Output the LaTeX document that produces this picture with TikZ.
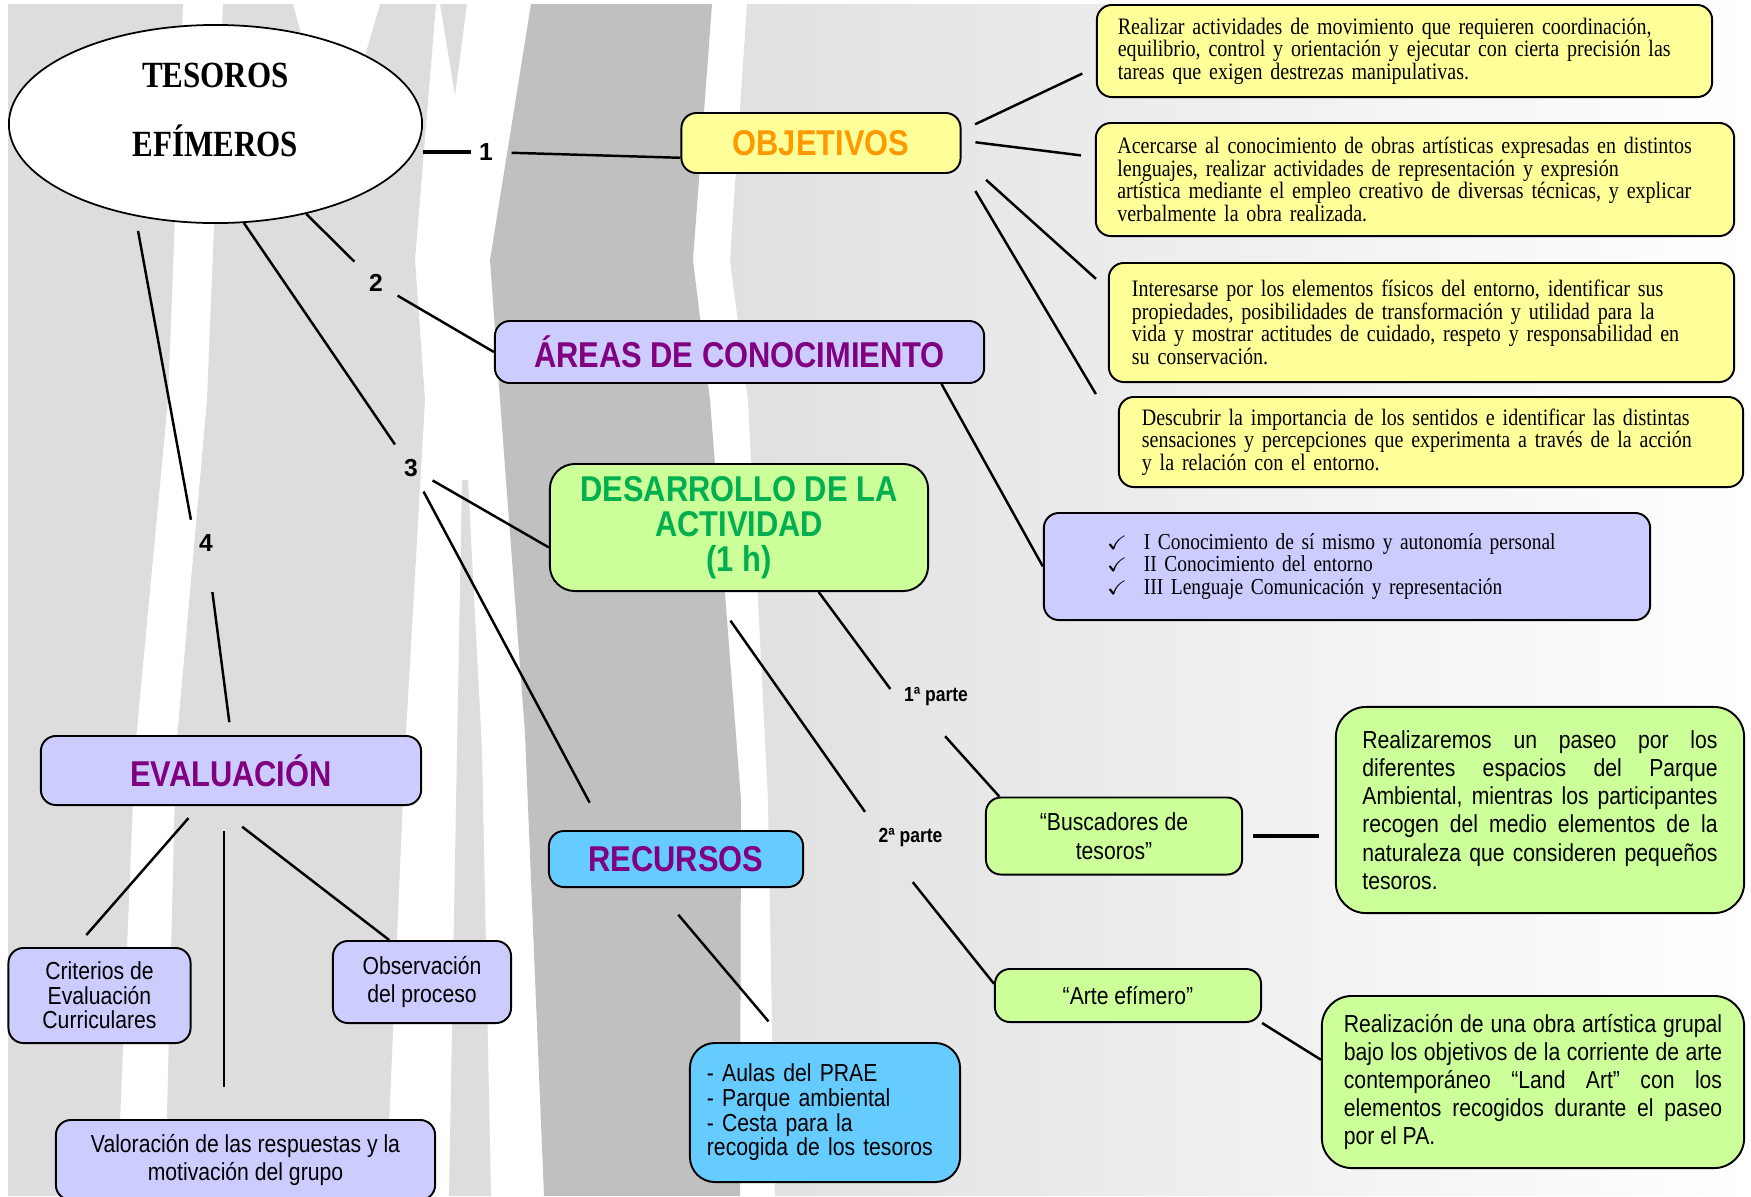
\documentclass[tikz,border=0pt]{standalone}
\usepackage{fontspec}
\usepackage{amssymb}
\setmainfont{Liberation Serif}
\setsansfont{Liberation Sans}
\newfontfamily\cuerpo[FakeStretch=0.85]{Liberation Serif}
\newfontfamily\estrecha[FakeStretch=0.86]{Liberation Sans}
\newfontfamily\titular[FakeStretch=0.84]{Liberation Serif}
\usetikzlibrary{shapes.geometric}

\definecolor{amarillo}{HTML}{FFFF99}
\definecolor{lila}{HTML}{CCCCFF}
\definecolor{verde}{HTML}{CCFF99}
\definecolor{celeste}{HTML}{66CCFF}
\definecolor{naranja}{HTML}{FF9900}
\definecolor{morado}{HTML}{800080}
\definecolor{verdeosc}{HTML}{00B050}
\definecolor{grisclaro}{HTML}{DDDDDD}
\definecolor{grisoscuro}{HTML}{C0C0C0}
\definecolor{grisfondo}{HTML}{E0E0E0}

\newcommand{\marca}{\makebox[0.38cm][l]{\fontsize{5.5}{6}\selectfont$\checkmark$}}

\begin{document}
\begin{tikzpicture}[x=0.01cm, y=-0.01cm,
        caja/.style = {draw, line width=0.55pt, rounded corners=0.15cm, inner sep=0pt, align=center},
        titulo/.style = {caja, font=\estrecha\bfseries\fontsize{10.2}{10}\selectfont},
        textoy/.style = {caja, fill=amarillo, align=left, font=\cuerpo\fontsize{6.7}{6.4}\selectfont},
        textos/.style = {caja, font=\estrecha\fontsize{7}{8}\selectfont},
        numero/.style = {font=\sffamily\bfseries\fontsize{7}{8}\selectfont, inner sep=4pt},
        parte/.style = {font=\estrecha\bfseries\fontsize{5.8}{7}\selectfont, inner sep=2pt},
        enlace/.style = {line width=0.7pt},
    ]
    \clip (0,0) rectangle (1751,1196);
    % fondo: troncos
    \fill[white] (0,0) rectangle (1751,1196);
    \shade[left color=grisfondo, right color=white] (747,4) -- (1751,4) -- (1751,1196) -- (775,1196) -- (768,800) -- (748,400) -- (730,260) -- cycle;
    \fill[grisclaro] (8,4) -- (183,4) -- (168,400) -- (135,750) -- (117,1196) -- (8,1196) -- cycle;
    \fill[grisclaro] (223,4) -- (293,4) -- (335,160) -- (380,4) -- (436,4) -- (415,260) -- (425,400) -- (405,750) -- (386,1196) -- (165,1196) -- (176,750) -- (207,400) -- cycle;
    \fill[grisclaro] (440,4) -- (467,4) -- (455,95) -- cycle;
    \fill[grisclaro] (462,480) -- (468,480) -- (482,750) -- (491,1196) -- (449,1196) -- (457,750) -- cycle;
    \fill[grisoscuro] (531,4) -- (712,4) -- (693,260) -- (710,400) -- (741,800) -- (740,1196) -- (544,1196) -- (525,733) -- (500,400) -- (490,260) -- cycle;
    %
    \node[ellipse, draw, line width=0.5pt, fill=white, minimum width=4.13cm, minimum height=1.98cm, inner sep=0pt, align=center,
          font=\titular\bfseries\fontsize{10.5}{12}\selectfont]      (tesoros) at (215.5,124) {TESOROS\\[7.6pt]EFÍMEROS\\[-4pt]\mbox{}};
    \node[titulo, fill=amarillo, text=naranja, minimum width=2.79cm, minimum height=0.6cm] (obj) at (821,143) {OBJETIVOS};
    \node[titulo, fill=lila, text=morado, minimum width=4.89cm, minimum height=0.62cm]   (areas) at (739.5,352) {ÁREAS DE CONOCIMIENTO};
    \node[titulo, fill=verde, text=verdeosc, rounded corners=0.25cm,
          minimum width=3.78cm, minimum height=1.27cm]               (desa) at (739,527.5) {DESARROLLO DE LA\\ACTIVIDAD\\(1 h)};
    \node[titulo, fill=celeste, text=morado, minimum width=2.54cm, minimum height=0.56cm] (recur) at (676,859) {RECURSOS};
    \node[titulo, fill=lila, text=morado, minimum width=3.80cm, minimum height=0.69cm]   (evalu) at (231,770.5) {EVALUACIÓN};
    %
    \node[textoy, text width=5.73cm, minimum width=6.15cm, minimum height=0.92cm] (y1) at (1404.5,51)
        {Realizar actividades de movimiento que requieren coordinación,\\equilibrio, control y orientación y ejecutar con cierta precisión las\\tareas que exigen destrezas manipulativas.};
    \node[textoy, text width=5.95cm, minimum width=6.38cm, minimum height=1.13cm] (y2) at (1415,179.5)
        {Acercarse al conocimiento de obras artísticas expresadas en distintos\\lenguajes, realizar actividades de representación y expresión\\artística mediante el empleo creativo de diversas técnicas, y explicar\\verbalmente la obra realizada.};
    \node[textoy, text width=5.79cm, minimum width=6.25cm, minimum height=1.19cm] (y3) at (1421.5,322.5)
        {Interesarse por los elementos físicos del entorno, identificar sus\\propiedades, posibilidades de transformación y utilidad para la\\vida y mostrar actitudes de cuidado, respeto y responsabilidad en\\su conservación.};
    \node[textoy, text width=5.78cm, minimum width=6.24cm, minimum height=0.90cm] (y4) at (1431,442)
        {Descubrir la importancia de los sentidos e identificar las distintas\\sensaciones y percepciones que experimenta a través de la acción\\y la relación con el entorno.};
    \node[textoy, fill=lila, text width=4.82cm, minimum width=6.06cm, minimum height=1.07cm,
          font=\cuerpo\fontsize{6.5}{6.5}\selectfont]                (lista) at (1347,566.5)
        {\marca I Conocimiento de sí mismo y autonomía personal\\
         \marca II Conocimiento del entorno\\
         \marca III Lenguaje Comunicación y representación};
    %
    \node[textos, fill=verde, minimum width=2.56cm, minimum height=0.77cm,
          font=\estrecha\fontsize{7}{8.25}\selectfont]               (busca) at (1114,836) {“Buscadores de\\tesoros”};
    \node[textos, fill=verde, minimum width=2.66cm, minimum height=0.53cm] (arte) at (1128,995.5) {“Arte efímero”};
    \node[textos, fill=verde, rounded corners=0.3cm, text width=3.55cm, align=justify,
          minimum width=4.08cm, minimum height=2.06cm]               (paseo) at (1540,810)
        {Realizaremos un paseo por los\linebreak diferentes espacios del Parque\linebreak Ambiental, mientras los participantes\linebreak recogen del medio elementos de la\linebreak naturaleza que consideren pequeños\linebreak tesoros.};
    \node[textos, fill=verde, rounded corners=0.3cm, text width=3.78cm, align=justify,
          minimum width=4.22cm, minimum height=1.72cm]               (landart) at (1533,1082)
        {Realización de una obra artística grupal\linebreak bajo los objetivos de la corriente de arte\linebreak contemporáneo “Land Art” con los\linebreak elementos recogidos durante el paseo\linebreak por el PA.};
    \node[textos, fill=celeste, rounded corners=0.25cm, text width=2.36cm, align=left,
          minimum width=2.70cm, minimum height=1.39cm, font=\estrecha\fontsize{7}{7}\selectfont] (medios) at (825,1112.5)
        {- Aulas del PRAE\\- Parque ambiental\\- Cesta para la\\recogida de los tesoros};
    \node[textos, fill=lila, minimum width=1.82cm, minimum height=0.95cm,
          font=\estrecha\fontsize{7}{7}\selectfont]                  (criterios) at (99.5,995.5) {Criterios de\\Evaluación\\Curriculares};
    \node[textos, fill=lila, minimum width=1.78cm, minimum height=0.82cm,
          font=\estrecha\fontsize{7}{7.7}\selectfont]                (observ) at (422,982) {Observación\\del proceso};
    \node[textos, fill=lila, minimum width=3.79cm, minimum height=0.80cm] (valor) at (245.5,1160) {Valoración de las respuestas y la\\motivación del grupo};
    %
    \node[numero, inner sep=2pt] (n1) at (486,152) {1};
    \node[numero] (n2) at (376,283) {2};
    \node[numero] (n3) at (411,468) {3};
    \node[numero] (n4) at (206,543) {4};
    \node[parte]  (parte1) at (936,697) {1ª parte};
    \node[parte]  (parte2) at (910.5,837) {2ª parte};
    %
    \draw[enlace, line width=1pt] (tesoros.east |- n1.west) -- (n1.west);
    \draw[enlace, shorten <=0.11cm] (n1) -- (obj.186.5);
    \draw[enlace] (tesoros) -- (n2);
    \draw[enlace] (n2) -- (areas.west);
    \draw[enlace] (tesoros.-74) -- (n3);
    \draw[enlace] (n3) -- (desa.186);
    \draw[enlace, shorten >=0.31cm] (n3) -- (recur.158.5);
    \draw[enlace, shorten <=0.15cm] (tesoros.229) -- (n4.123);
    \draw[enlace, shorten <=0.26cm, shorten >=0.13cm] (n4) -- (evalu.north);
    %
    \draw[enlace, shorten <=0.15cm, shorten >=0.15cm] (obj.5.75) -- (y1.183.5);
    \draw[enlace, shorten <=0.14cm, shorten >=0.14cm] (obj.1.3) -- (y2.176.7);
    \draw[enlace, shorten <=0.33cm, shorten >=0.16cm] (obj.-6.6) -- (y3.174);
    \draw[enlace, shorten <=0.27cm, shorten >=0.43cm] (obj.-10.6) -- (y4.178.3);
    \draw[enlace] (areas.-9) -- (lista.west);
    %
    \draw[enlace, shorten >=0.1cm] (desa.-39.2) -- (parte1.west);
    \draw[enlace, shorten <=0.3cm] (parte1.237) -- (busca.161);
    \draw[enlace, shorten <=0.35cm, shorten >=0.1cm] (desa.246.2) -- (parte2.north west);
    \draw[enlace, shorten <=0.36cm] (parte2.220) -- (arte.175.5);
    \draw[enlace, line width=1.1pt, shorten <=0.1cm, shorten >=0.16cm] (busca.east) -- (busca.east -| paseo.west);
    \draw[enlace] (arte.south east) -- (landart.174.9);
    \draw[enlace, shorten <=0.35cm, shorten >=0.27cm] (recur.235.8) -- (medios.119);
    %
    \draw[enlace, shorten <=0.16cm, shorten >=0.16cm] (evalu.228.5) -- (criterios.116.8);
    \draw[enlace, shorten <=0.25cm, shorten >=0.32cm] (evalu.259.5) -- (evalu.259.5 |- valor.north);
    \draw[enlace, shorten <=0.34cm] (evalu.246.5) -- (observ.128.3);
\end{tikzpicture}
\end{document}
